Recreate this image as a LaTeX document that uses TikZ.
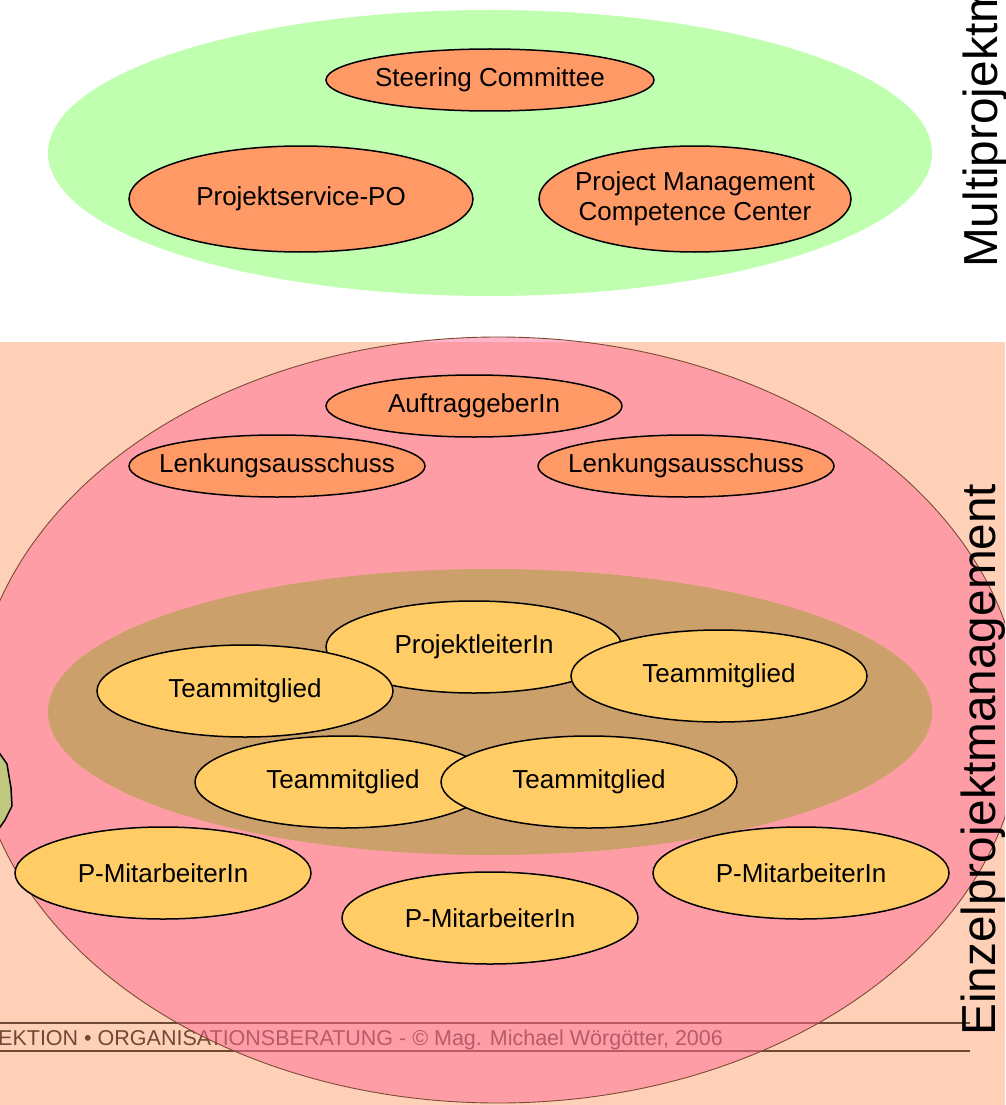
\documentclass[tikz,border=0pt]{standalone}
\usepackage{fontspec}
\setmainfont{Liberation Sans}
\usetikzlibrary{shapes.geometric}
\definecolor{multigruen}{HTML}{C0FFB0}
\definecolor{gremfarbe}{HTML}{FF9966}
\definecolor{teamfarbe}{HTML}{FFCC66}
\definecolor{kernbraun}{HTML}{CCA06B}
\definecolor{pfirsich}{HTML}{FFD0B8}
\definecolor{einzelrosa}{HTML}{FF6C98}
\definecolor{randbraun}{HTML}{7B4B33}
\definecolor{fussbraun}{HTML}{6E4A36}
\definecolor{blobgruen}{HTML}{C0C880}

\begin{document}
\begin{tikzpicture}[x=1pt,y=-1pt]
          \tikzset{rolle/.style={ellipse,draw=black,line width=1.5pt,inner xsep=-30pt,inner ysep=0pt,align=center,font=\fontsize{26}{30}\selectfont},
            gremium/.style={rolle,fill=gremfarbe,minimum width=296pt,minimum height=62pt},
            team/.style={rolle,fill=teamfarbe,minimum width=296pt,minimum height=92pt},
            ebene/.style={rotate=90,anchor=base west,inner sep=0pt,font=\fontsize{47.75}{50}\selectfont}}
          \useasboundingbox (0,0) rectangle (1005,1105);
          \clip (0,0) rectangle (1005,1105);
          \fill[multigruen] (490,153) ellipse [x radius=442pt,y radius=143pt];
          \node[gremium,minimum width=328pt] (steering) at (490,80) {Steering Committee};
          \node[gremium,minimum width=344pt,minimum height=106pt] (projektservice) at (301,199) {Projektservice-PO};
          \node[gremium,minimum width=312pt,minimum height=106pt] (pmcc) at (695,199) {Project Management\\Competence Center};
          \node[ebene] (multi) at (997,268) {Multiprojektm};
          \fill[pfirsich] (0,342) rectangle (1005,1105);
          \draw[fussbraun,line width=2pt] (0,1023) -- (970,1023);
          \draw[fussbraun,line width=2pt] (0,1051) -- (970,1051);
          \node[anchor=base west,inner sep=0pt,text=fussbraun,font=\fontsize{21.5}{22}\selectfont] (fusszeile) at (-2,1045) {EKTION • ORGANISATIONSBERATUNG - © Mag. Michael Wörgötter, 2006};
          \draw[randbraun,line width=0.9pt,fill=einzelrosa,fill opacity=0.5] (498,720) ellipse [x radius=524pt,y radius=383pt];
          \fill[kernbraun] (490,712) ellipse [x radius=442pt,y radius=143pt];
          \draw[fill=blobgruen,line width=1.5pt] (-2,751) -- (7,764) -- (11,788) -- (12,806) -- (5,820) -- (-2,830);
          \node[gremium] (auftraggeber) at (474,406) {AuftraggeberIn};
          \node[gremium] (lenkung1) at (277,466) {Lenkungsausschuss};
          \node[gremium] (lenkung2) at (686,466) {Lenkungsausschuss};
          \node[team] (leiter) at (474,647) {ProjektleiterIn};
          \node[team] (team1) at (245,691) {Teammitglied};
          \node[team] (team2) at (719,676) {Teammitglied};
          \node[team] (team3) at (343,782) {Teammitglied};
          \node[team] (team4) at (589,782) {Teammitglied};
          \node[team] (pma1) at (163,873) {P-MitarbeiterIn};
          \node[team] (pma2) at (801,873) {P-MitarbeiterIn};
          \node[team] (pma3) at (490,918) {P-MitarbeiterIn};
          \node[ebene] (einzel) at (995,1036) {Einzelprojektmanagement};
        \end{tikzpicture}
\end{document}
